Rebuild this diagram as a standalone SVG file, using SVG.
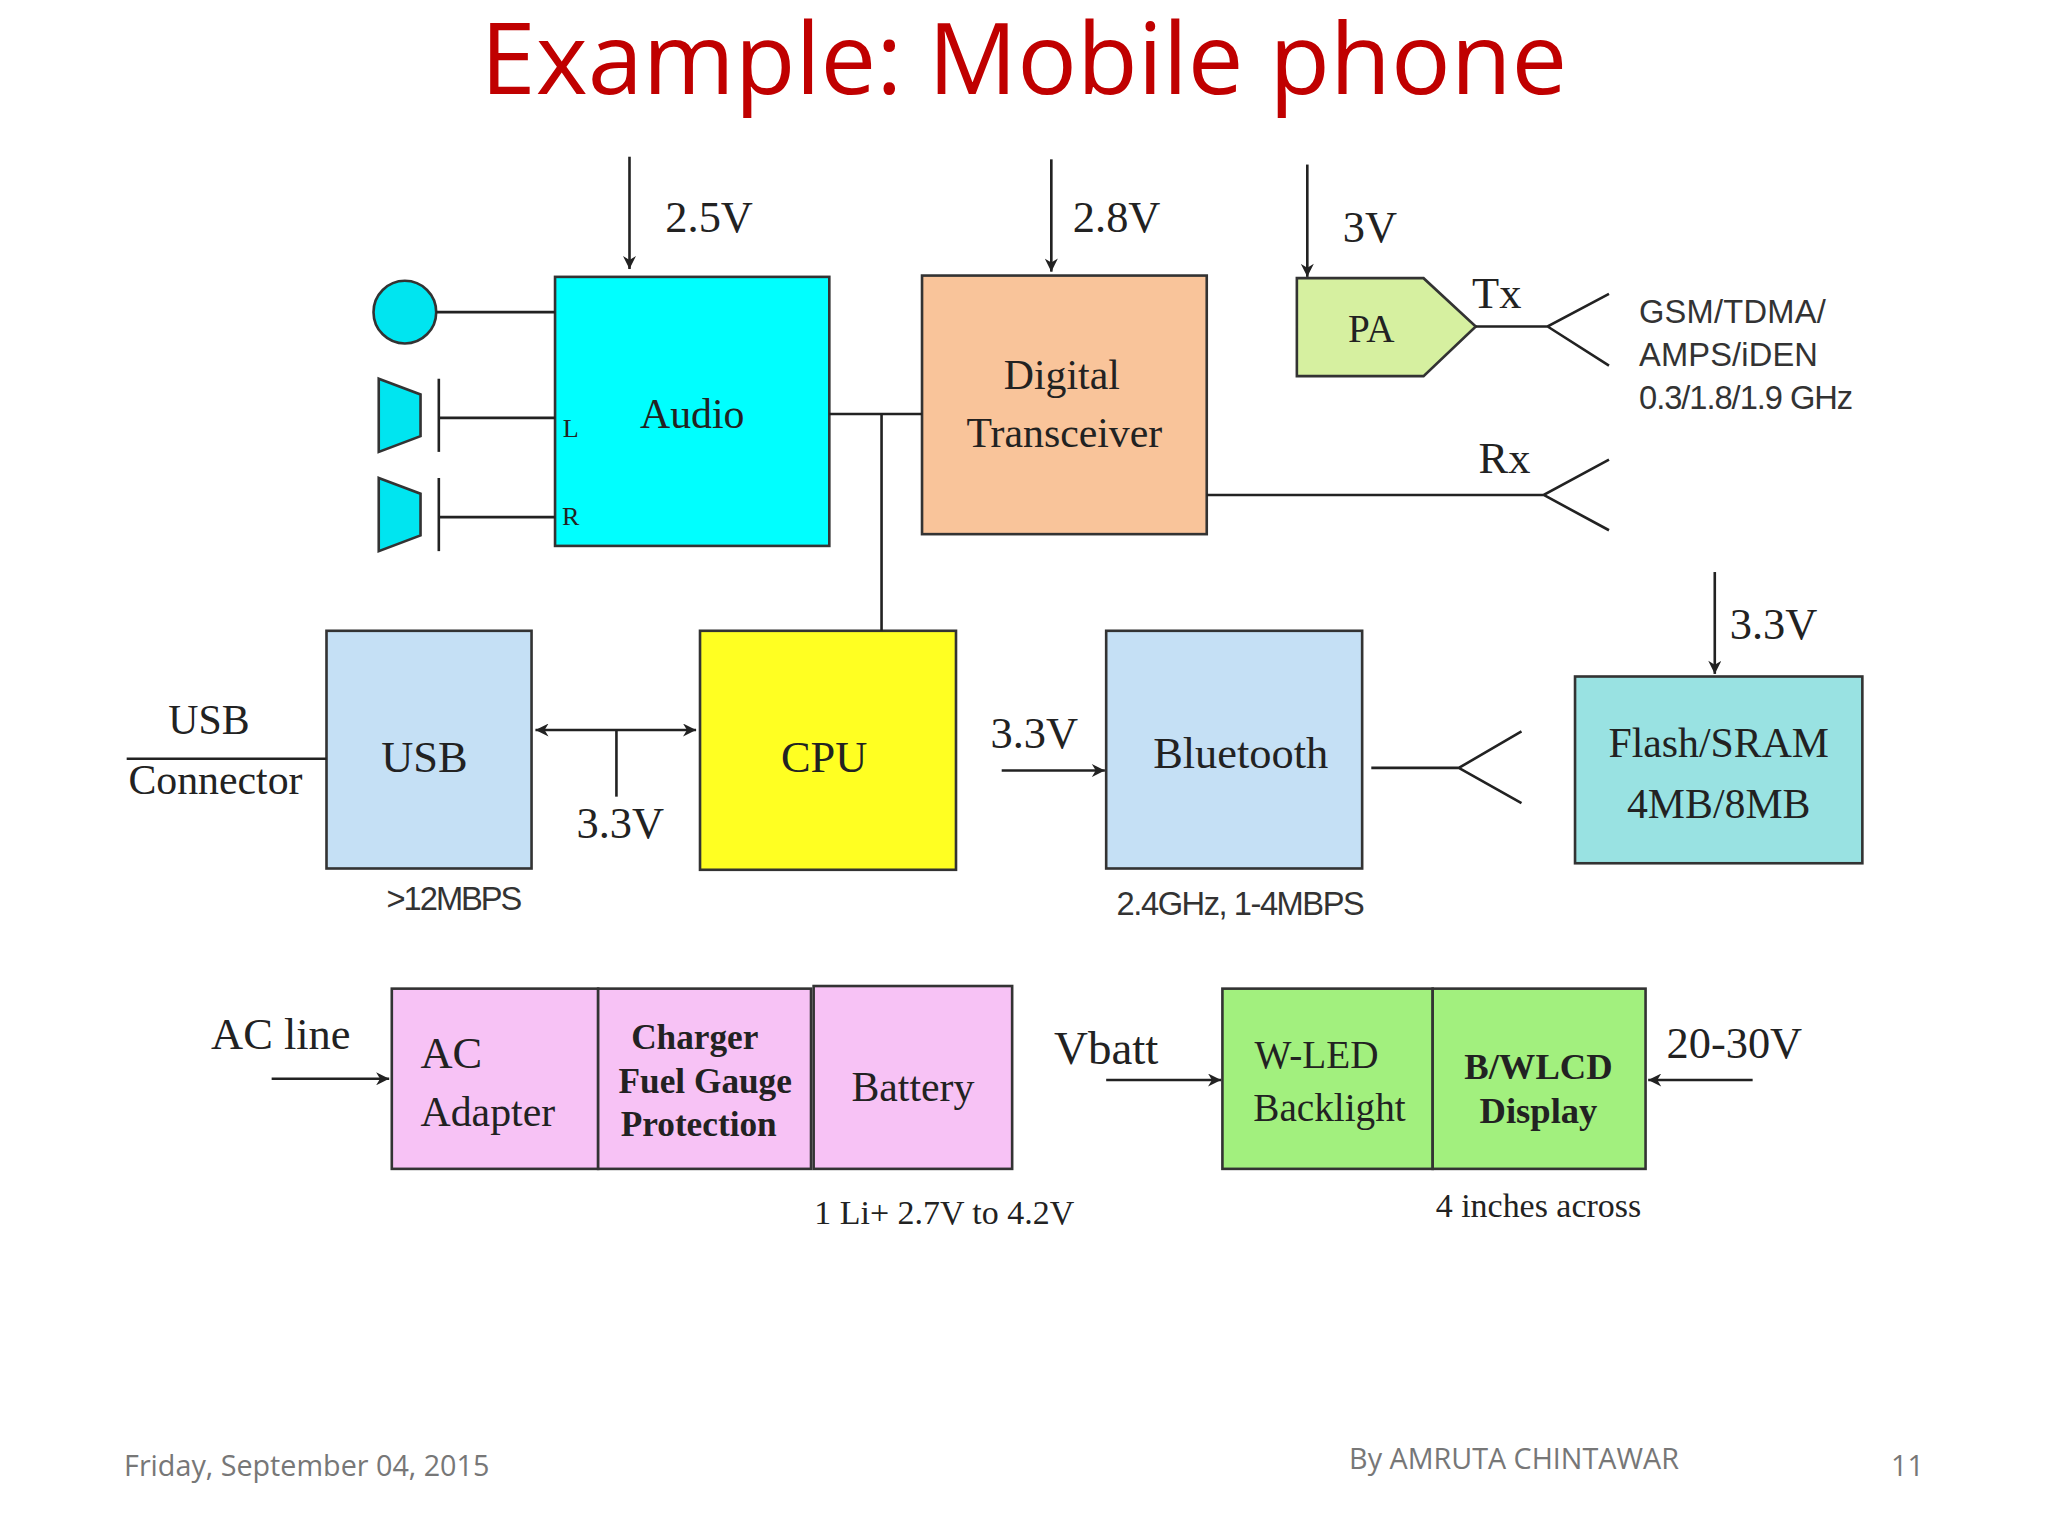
<svg xmlns="http://www.w3.org/2000/svg" width="2048" height="1536" viewBox="0 0 2048 1536">
<defs>
<marker id="ah" viewBox="0 0 10 10" refX="10" refY="5" markerWidth="12" markerHeight="10" markerUnits="userSpaceOnUse" orient="auto-start-reverse"><path d="M0,0 L10,5 L0,10 L3,5 z" fill="#222"/></marker>
<style>
.s{font-family:"Liberation Serif",serif;fill:#222;text-anchor:middle}
.st{font-family:"Liberation Serif",serif;fill:#222}
.b{stroke:#333;stroke-width:2}
.l{stroke:#222;stroke-width:2;fill:none}
.a{stroke:#222;stroke-width:2;fill:none;marker-end:url(#ah)}
.f{font-family:"Open Sans","Liberation Sans",sans-serif;fill:#777;font-size:22px}
.n{font-family:"Liberation Sans",sans-serif;font-size:25px;fill:#333}
</style>
</defs>
<rect width="2048" height="1536" fill="#fff"/>
<g transform="scale(1.306)">
<text x="784" y="72" font-family="Open Sans, Liberation Sans, sans-serif" font-size="76" fill="#c00000" text-anchor="middle">Example: Mobile phone</text>
<g id="mic"><circle cx="310" cy="239" r="24" fill="#00e5f0" class="b"/></g>
<g id="spkL"><path d="M290,290 L322,302 L322,334 L290,346 z" fill="#00e5f0" class="b"/><line x1="336" y1="290" x2="336" y2="346" class="l"/></g>
<g id="spkR"><path d="M290,366 L322,378 L322,410 L290,422 z" fill="#00e5f0" class="b"/><line x1="336" y1="366" x2="336" y2="422" class="l"/></g>
<g id="audio"><rect x="425" y="212" width="210" height="206" fill="#00ffff" class="b"/><text x="530" y="328" class="s" font-size="32">Audio</text><text x="437" y="335" class="s" font-size="20">L</text><text x="437" y="402" class="s" font-size="20">R</text></g>
<g id="dt"><rect x="706" y="211" width="218" height="198" fill="#f9c49a" class="b"/><text x="813" y="298" class="s" font-size="32">Digital</text><text x="815" y="342" class="s" font-size="32">Transceiver</text></g>
<g id="pa"><path d="M993,213 L1090,213 L1130,250 L1090,288 L993,288 z" fill="#d6f0a0" class="b"/><text x="1050" y="262" class="s" font-size="30">PA</text></g>
<g id="usb"><rect x="250" y="483" width="157" height="182" fill="#c5e0f5" class="b"/><text x="325" y="591" class="s" font-size="34">USB</text></g>
<g id="cpu"><rect x="536" y="483" width="196" height="183" fill="#ffff22" class="b"/><text x="631" y="591" class="s" font-size="34">CPU</text></g>
<g id="bt"><rect x="847" y="483" width="196" height="182" fill="#c5e0f5" class="b"/><text x="950" y="588" class="s" font-size="34">Bluetooth</text></g>
<g id="flash"><rect x="1206" y="518" width="220" height="143" fill="#99e2e2" class="b"/><text x="1316" y="580" class="s" font-size="32">Flash/SRAM</text><text x="1316" y="626" class="s" font-size="32">4MB/8MB</text></g>
<g id="ac"><rect x="300" y="757" width="158" height="138" fill="#f7c2f5" class="b"/><text x="322" y="818" class="st" font-size="34">AC</text><text x="322" y="862" class="st" font-size="32">Adapter</text></g>
<g id="chg"><rect x="458" y="757" width="163" height="138" fill="#f7c2f5" class="b"/><text x="532" y="803" class="s" font-size="27" font-weight="bold">Charger</text><text x="540" y="837" class="s" font-size="27" font-weight="bold">Fuel Gauge</text><text x="535" y="870" class="s" font-size="27" font-weight="bold">Protection</text></g>
<g id="bat"><rect x="623" y="755" width="152" height="140" fill="#f7c2f5" class="b"/><text x="699" y="843" class="s" font-size="32">Battery</text></g>
<g id="wled"><rect x="936" y="757" width="161" height="138" fill="#a2f07e" class="b"/><text x="1008" y="818" class="s" font-size="30">W-LED</text><text x="1018" y="858" class="s" font-size="30">Backlight</text></g>
<g id="lcd"><rect x="1097" y="757" width="163" height="138" fill="#a2f07e" class="b"/><text x="1178" y="826" class="s" font-size="28" font-weight="bold">B/WLCD</text><text x="1178" y="860" class="s" font-size="28" font-weight="bold">Display</text></g>
<g id="connectors">
<line x1="334" y1="239" x2="425" y2="239" class="l"/>
<line x1="336" y1="320" x2="425" y2="320" class="l"/>
<line x1="336" y1="396" x2="425" y2="396" class="l"/>
<line x1="482" y1="120" x2="482" y2="206" class="a"/>
<line x1="805" y1="122" x2="805" y2="208" class="a"/>
<line x1="1001" y1="126" x2="1001" y2="212" class="a"/>
<line x1="635" y1="317" x2="706" y2="317" class="l"/>
<line x1="675" y1="317" x2="675" y2="483" class="l"/>
<path d="M1130,250 L1185,250 L1232,225 M1185,250 L1232,280" class="l"/>
<path d="M924,379 L1182,379 L1232,352 M1182,379 L1232,406" class="l"/>
<line x1="97" y1="581" x2="250" y2="581" class="l"/>
<line x1="410" y1="559" x2="533" y2="559" class="a" style="marker-start:url(#ah)"/>
<line x1="472" y1="559" x2="472" y2="610" class="l"/>
<line x1="767" y1="590" x2="846" y2="590" class="a"/>
<path d="M1050,588 L1117,588 L1165,560 M1117,588 L1165,615" class="l"/>
<line x1="1313" y1="438" x2="1313" y2="516" class="a"/>
<line x1="208" y1="826" x2="298" y2="826" class="a"/>
<line x1="847" y1="827" x2="935" y2="827" class="a"/>
<line x1="1342" y1="827" x2="1262" y2="827" class="a"/>
</g>
<g id="labels">
<text x="543" y="178" class="s" font-size="34">2.5V</text>
<text x="855" y="178" class="s" font-size="34">2.8V</text>
<text x="1049" y="185" class="s" font-size="34">3V</text>
<text x="1146" y="236" class="s" font-size="34">Tx</text>
<text x="1152" y="362" class="s" font-size="34">Rx</text>
<text x="1255" y="247" class="n" textLength="143">GSM/TDMA/</text>
<text x="1255" y="280" class="n" textLength="137">AMPS/iDEN</text>
<text x="1255" y="313" class="n" textLength="164">0.3/1.8/1.9 GHz</text>
<text x="296" y="697" class="n" textLength="104">&gt;12MBPS</text>
<text x="855" y="701" class="n" textLength="190">2.4GHz, 1-4MBPS</text>
<text x="160" y="562" class="s" font-size="32">USB</text>
<text x="165" y="608" class="s" font-size="32">Connector</text>
<text x="475" y="642" class="s" font-size="34">3.3V</text>
<text x="792" y="573" class="s" font-size="34">3.3V</text>
<text x="1358" y="489" class="s" font-size="34">3.3V</text>
<text x="215" y="803" class="s" font-size="34">AC line</text>
<text x="723" y="937" class="s" font-size="26">1 Li+ 2.7V to 4.2V</text>
<text x="847" y="815" class="s" font-size="36">Vbatt</text>
<text x="1178" y="932" class="s" font-size="26">4 inches across</text>
<text x="1328" y="810" class="s" font-size="34">20-30V</text>
</g>
<text x="95" y="1130" class="f">Friday, September 04, 2015</text>
<text x="1033" y="1125" class="f">By AMRUTA CHINTAWAR</text>
<text x="1448" y="1130" class="f">11</text>
</g>
</svg>
